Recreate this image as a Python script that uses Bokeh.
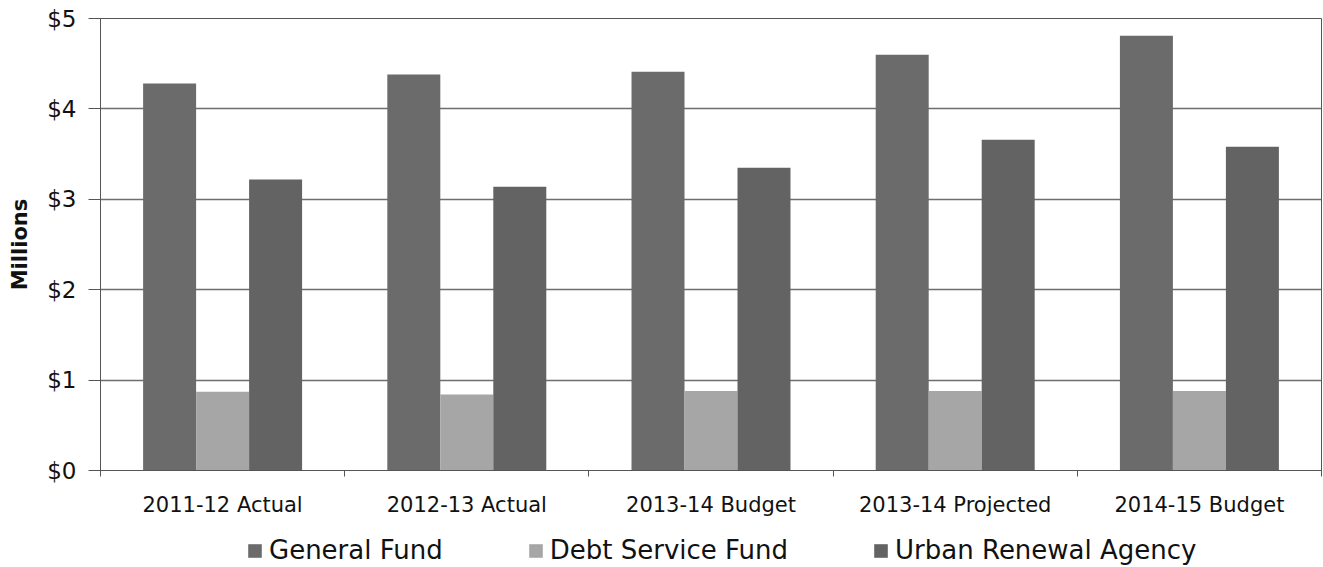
from bokeh.plotting import figure
from bokeh.models import FixedTicker, Legend, LegendItem, Range1d
from bokeh.layouts import column
from bokeh.embed import file_html
from bokeh.resources import INLINE

categories = ["2011-12 Actual", "2012-13 Actual", "2013-14 Budget", "2013-14 Projected", "2014-15 Budget"]
general_fund = [4.28, 4.38, 4.41, 4.60, 4.81]
debt_service = [0.87, 0.84, 0.88, 0.88, 0.88]
urban_renewal = [3.22, 3.14, 3.35, 3.66, 3.58]
series_names = ["General Fund", "Debt Service Fund", "Urban Renewal Agency"]
y_ticks = [0, 1, 2, 3, 4, 5]
y_labels = ["$0", "$1", "$2", "$3", "$4", "$5"]

colors = ["#6b6b6b", "#a6a6a6", "#636363"]
FONT = "DejaVu Sans"

p = figure(width=1323, height=527, output_backend="svg", toolbar_location=None,
           x_range=Range1d(0, len(categories)), y_range=Range1d(0, 5),
           min_border_left=100, min_border_right=2, min_border_top=18,
           min_border_bottom=57)
p.background_fill_color = "white"
p.border_fill_color = "white"
p.outline_line_color = "#555555"
p.outline_line_width = 1

bw = 0.217
offsets = [-bw, 0, bw]
all_series = [general_fund, debt_service, urban_renewal]
for vals, off, col in zip(all_series, offsets, colors):
    xs = [i + 0.5 + off for i in range(len(categories))]
    p.vbar(x=xs, top=vals, bottom=0, width=bw, fill_color=col, line_color=None)

# x axis
centers = [i + 0.5 for i in range(len(categories))]
p.xaxis.ticker = FixedTicker(ticks=centers, minor_ticks=list(range(len(categories) + 1)))
p.xaxis.major_label_overrides = {c: lab for c, lab in zip(centers, categories)}
p.xaxis.major_tick_out = 0
p.xaxis.major_tick_in = 0
p.xaxis.minor_tick_out = 6
p.xaxis.minor_tick_in = 0
p.xaxis.minor_tick_line_color = "#555555"
p.xaxis.axis_line_color = "#555555"
p.xaxis.major_label_text_font = FONT
p.xaxis.major_label_text_font_size = "21px"
p.xaxis.major_label_text_color = "#111111"
p.xaxis.major_label_standoff = 16
p.xgrid.grid_line_color = None

# y axis
p.yaxis.ticker = FixedTicker(ticks=y_ticks)
p.yaxis.major_label_overrides = {t: lab for t, lab in zip(y_ticks, y_labels)}
p.yaxis.minor_tick_line_color = None
p.yaxis.major_tick_out = 12
p.yaxis.major_tick_in = 0
p.yaxis.major_tick_line_color = "#555555"
p.yaxis.axis_line_color = "#555555"
p.yaxis.major_label_text_font = FONT
p.yaxis.major_label_text_font_size = "23px"
p.yaxis.major_label_text_color = "#111111"
p.yaxis.major_label_standoff = 12
p.yaxis.axis_label = "Millions"
p.yaxis.axis_label_text_font = FONT
p.yaxis.axis_label_text_font_size = "21px"
p.yaxis.axis_label_text_font_style = "bold"
p.yaxis.axis_label_text_color = "#111111"
p.yaxis.axis_label_standoff = 12
p.ygrid.grid_line_color = "#6e6e6e"
p.ygrid.grid_line_width = 1.5

# legend strip (bars drawn here are out of its visible y range; only the legend shows)
lg = figure(width=1323, height=40, output_backend="svg", toolbar_location=None,
            x_range=Range1d(0, len(categories)), y_range=Range1d(100, 101),
            min_border=0, min_border_left=100, min_border_right=2,
            min_border_top=0, min_border_bottom=0)
lg.axis.visible = False
lg.grid.visible = False
lg.outline_line_color = None
lg.background_fill_color = "white"
lg.border_fill_color = "white"
items = []
for name, vals, col in zip(series_names, all_series, colors):
    r = lg.vbar(x=list(range(len(categories))), top=vals, bottom=0, width=0.2,
                fill_color=col, line_color=None)
    items.append(LegendItem(label=name, renderers=[r]))
legend = Legend(items=items, orientation="horizontal", location=(146, 2),
                label_text_font=FONT, label_text_font_size="26px", label_text_color="#111111",
                glyph_width=17, glyph_height=17, spacing=84, label_standoff=6,
                label_height=26, border_line_color=None, background_fill_alpha=0,
                padding=2, margin=0)
lg.add_layout(legend, "center")

open("out.html", "w").write(file_html(column(p, lg, spacing=0), INLINE))
